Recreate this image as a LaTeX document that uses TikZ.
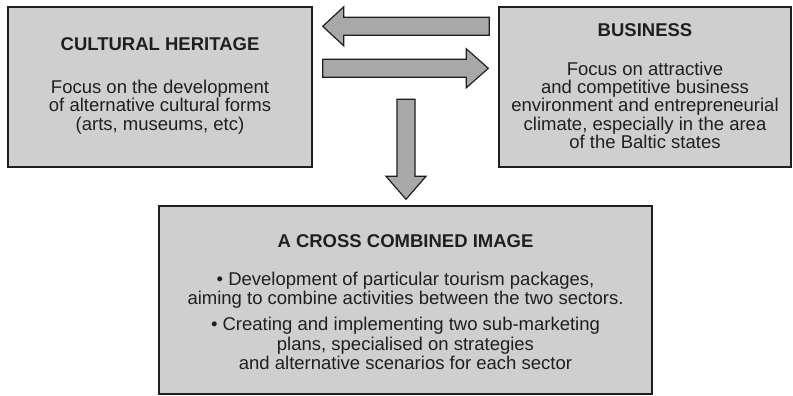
\documentclass[tikz,border=0pt]{standalone}
\usepackage{fontspec}
\setmainfont{Liberation Sans}
\usetikzlibrary{positioning}
\usetikzlibrary{calc}

\definecolor{boxgray}{gray}{0.81}
\definecolor{arrowgray}{gray}{0.66}
\definecolor{linegray}{gray}{0.12}

\tikzset{
  sectorbox/.style={draw=linegray, fill=boxgray, line width=1.4pt, inner sep=0pt},
  boxtitle/.style={font=\bfseries\fontsize{18.5}{18.5}\selectfont, text=linegray, anchor=base, inner sep=0pt},
  boxtext/.style={font=\fontsize{18.5}{18.5}\selectfont, text=linegray, align=center, anchor=north, inner sep=0pt},
  fatarrow/.style={draw=linegray, fill=arrowgray, line width=1.2pt, line join=miter}
}

\begin{document}
\begin{tikzpicture}[x=1pt, y=-1pt]
    \useasboundingbox (0,0) rectangle (793,396);
    \node[sectorbox, minimum width=304pt, minimum height=160pt] (cult) at (160,87) {};
    \node[sectorbox, minimum width=292pt, minimum height=160pt] (busi) at (645,87) {};
    \node[sectorbox, minimum width=493pt, minimum height=188pt] (combo) at (405.5,300) {};
    \node[boxtitle] (culttitle) at (160,51) {CULTURAL HERITAGE};
    \node[boxtext] (culttext) at (160,79.5) {Focus on the development\\ of alternative cultural forms\\ (arts, museums, etc)};
    \node[boxtitle] (busititle) at (645,37) {BUSINESS};
    \node[boxtext, font=\fontsize{18.5}{18.3}\selectfont] (busitext) at (645,61.5) {Focus on attractive\\ and competitive business\\ environment and entrepreneurial\\ climate, especially in the area\\ of the Baltic states};
    \node[boxtitle] (combotitle) at (405.5,247) {A CROSS COMBINED IMAGE};
    \node[boxtext, font=\fontsize{18.5}{19.4}\selectfont] (combotext) at (405.5,271.5) {\textbullet{} Development of particular tourism packages,\\ aiming to combine activities between the two sectors.\\[7pt] \textbullet{} Creating and implementing two sub-marketing\\ plans, specialised on strategies\\ and alternative scenarios for each sector};
    \coordinate (lefttip) at ($(cult.north east)+(10,20)$);
    \coordinate (lefttail) at ($(busi.north west)+(-9,20)$);
    \coordinate (righttail) at ($(cult.north east)+(10,62)$);
    \coordinate (righttip) at ($(busi.north west)+(-10,62)$);
    \coordinate (downtail) at ($(combo.north)+(0.5,-106)$);
    \coordinate (downtip) at ($(combo.north)+(0.5,-6)$);
    \draw[fatarrow] ($(lefttail)+(0,-9)$) -- ($(lefttip)+(21,-9)$) -- ($(lefttip)+(21,-19.5)$) -- (lefttip)
        -- ($(lefttip)+(21,19.5)$) -- ($(lefttip)+(21,9)$) -- ($(lefttail)+(0,9)$) -- cycle;
    \draw[fatarrow] ($(righttail)+(0,-9)$) -- ($(righttip)+(-22,-9)$) -- ($(righttip)+(-22,-19.5)$) -- (righttip)
        -- ($(righttip)+(-22,19.5)$) -- ($(righttip)+(-22,9)$) -- ($(righttail)+(0,9)$) -- cycle;
    \draw[fatarrow] ($(downtail)+(-9,0)$) -- ($(downtip)+(-9,-23)$) -- ($(downtip)+(-20,-23)$) -- (downtip)
        -- ($(downtip)+(20,-23)$) -- ($(downtip)+(9,-23)$) -- ($(downtail)+(9,0)$) -- cycle;
\end{tikzpicture}
\end{document}
